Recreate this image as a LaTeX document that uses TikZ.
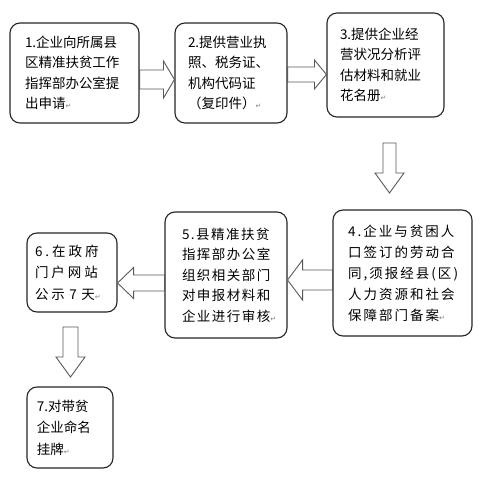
\documentclass[tikz,border=0pt]{standalone}
\usepackage{fontspec}
\setmainfont{Noto Sans CJK SC}
\newfontfamily\cjkn{Noto Sans CJK SC}
\newfontfamily\cjkwa[LetterSpace=15]{Noto Sans CJK SC}
\newfontfamily\cjkwb[LetterSpace=11]{Noto Sans CJK SC}
\newfontfamily\cjkwc[LetterSpace=22]{Noto Sans CJK SC}
\newfontfamily\symf{DejaVu Sans}
\usetikzlibrary{calc}
\newcommand\retmark{{\symf\fontsize{7}{7}\selectfont\textcolor{gray}{↵}}}
% horizontal block arrow: #1 tail anchor, #2 tip anchor, #3 centre y, #4 half body, #5 half head, #6 signed head length
\newcommand\harrowdraw[6]{\draw[barrow] let \p1=(#1), \p2=(#2) in
  ({\x1},{#3+#4}) -- ({\x2-(#6)},{#3+#4}) -- ({\x2-(#6)},{#3+#5}) -- ({\x2},{#3})
  -- ({\x2-(#6)},{#3-#5}) -- ({\x2-(#6)},{#3-#4}) -- ({\x1},{#3-#4}) -- cycle;}
% vertical (downward) block arrow: #1 top coordinate, #2 tip coordinate, #3 half body, #4 half head, #5 head length
\newcommand\varrowdraw[5]{\draw[barrow] let \p1=(#1), \p2=(#2) in
  ({\x1-#3},{\y1}) -- ({\x1+#3},{\y1}) -- ({\x1+#3},{\y2+#5}) -- ({\x1+#4},{\y2+#5})
  -- ({\x2},{\y2}) -- ({\x1-#4},{\y2+#5}) -- ({\x1-#3},{\y2+#5}) -- cycle;}
\begin{document}
\begin{tikzpicture}[x=1pt,y=1pt,
  box/.style={draw=black!85, line width=1.1pt, rounded corners=10pt, fill=white,
    inner sep=0pt, align=left},
  barrow/.style={draw=black!65, line width=0.9pt, fill=white, line join=miter},
  fa/.style={font=\cjkn\fontsize{13.5}{20.5}\selectfont},
  fb/.style={font=\cjkwa\fontsize{13.5}{21}\selectfont},
  fc/.style={font=\cjkwb\fontsize{13.5}{20.5}\selectfont},
  fd/.style={font=\cjkwc\fontsize{13.5}{21.5}\selectfont},
  fe/.style={font=\cjkn\fontsize{13.5}{21.5}\selectfont}]
\useasboundingbox[fill=white] (0,0) rectangle (488,-487);

\node[box, fa, minimum width=129pt, minimum height=100pt, text width=99pt] (b1) at (74.5,-73)
  {1.企业向所属县\\区精准扶贫工作\\指挥部办公室提\\出申请\retmark};
\node[box, fa, minimum width=112pt, minimum height=100pt, text width=86pt] (b2) at (231,-73)
  {2.提供营业执\\照、税务证、\\机构代码证\\（复印件）\retmark};
\node[box, fa, minimum width=117pt, minimum height=104pt, text width=91pt] (b3) at (385.5,-65)
  {3.提供企业经\\营状况分析评\\估材料和就业\\花名册\retmark};
\node[box, fb, minimum width=139pt, minimum height=126pt, text width=109pt] (b4) at (402.5,-273)
  {4.企业与贫困人\\口签订的劳动合\\同,须报经县(区)\\人力资源和社会\\保障部门备案\retmark};
\node[box, fc, minimum width=122pt, minimum height=126pt, text width=88pt] (b5) at (226,-275)
  {5.县精准扶贫\\指挥部办公室\\组织相关部门\\对申报材料和\\企业进行审核\retmark};
\node[box, fd, minimum width=90pt, minimum height=79pt, text width=74pt] (b6) at (72,-272.5)
  {6.在政府\\门户网站\\公示 7 天\retmark};
\node[box, fe, minimum width=86pt, minimum height=81pt, text width=66pt] (b7) at (70,-427.5)
  {7.对带贫\\企业命名\\挂牌\retmark};

\coordinate (d34t) at (389.5,-143);
\coordinate (d34p) at (389.5,-193);
\coordinate (d67t) at (70.5,-327);
\coordinate (d67p) at (70.5,-377);

\harrowdraw{b1.east}{b2.west}{-79.5}{9.5}{18.5}{11}
\harrowdraw{b2.east}{b3.west}{-74.5}{7.5}{14.5}{12}
\harrowdraw{b4.west}{b5.east}{-280}{10}{20}{-15}
\harrowdraw{b5.west}{b6.east}{-283}{8}{15.5}{-16}
\varrowdraw{d34t}{d34p}{6.5}{14.5}{20}
\varrowdraw{d67t}{d67p}{7.5}{14.5}{20}
\end{tikzpicture}
\end{document}
